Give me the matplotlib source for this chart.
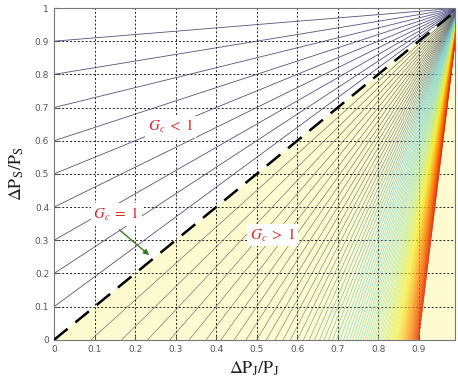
import matplotlib
matplotlib.use('Agg')
import matplotlib.pyplot as plt
from matplotlib.colors import LinearSegmentedColormap
import numpy as np

# contour levels of Gc = (1 - dPs/Ps) / (1 - dPj/Pj)
gc_upper = [0.1, 0.2, 0.3, 0.4, 0.5, 0.6, 0.7, 0.8, 0.9]   # Gc < 1
gc_lower_start, gc_lower_stop, gc_lower_step = 1.1, 10.0, 0.1  # Gc > 1
x_ticks = [0, 0.1, 0.2, 0.3, 0.4, 0.5, 0.6, 0.7, 0.8, 0.9]
x_ticklabels = ['0', '0.1', '0.2', '0.3', '0.4', '0.5', '0.6', '0.7', '0.8', '0.9']
y_ticks = [0, 0.1, 0.2, 0.3, 0.4, 0.5, 0.6, 0.7, 0.8, 0.9, 1.0]
y_ticklabels = ['0', '0.1', '0.2', '0.3', '0.4', '0.5', '0.6', '0.7', '0.8', '0.9', '1']

plt.rcParams['mathtext.fontset'] = 'stix'

fig = plt.figure(figsize=(4.58, 3.81), dpi=100)
ax = fig.add_axes([0.118, 0.108, 0.876, 0.871])

gc_lower = list(np.round(np.arange(gc_lower_start, gc_lower_stop + 1e-9, gc_lower_step), 2))

# grid for the contour
xs = np.linspace(0, 0.995, 500)
ys = np.linspace(0, 1, 500)
X, Y = np.meshgrid(xs, ys)
G = (1 - Y) / (1 - X)

# region Gc > 1 (below the diagonal)
ax.fill([0, 1, 1], [0, 1, 0], color='#fdfbcf', zorder=0, lw=0)

# upper family: dark slate lines
ax.contour(X, Y, G, levels=gc_upper, colors='#35356f', linewidths=0.6,
           alpha=0.85, zorder=1)
# lower family: grey -> cyan -> yellow -> red
lower_cmap = LinearSegmentedColormap.from_list('gc', [
    (0.0, '#505058'), (0.12, '#5c6468'), (0.27, '#6ccad4'), (0.42, '#a8e4a8'),
    (0.6, '#f4f020'), (0.78, '#ff8800'), (1.0, '#e52a08')])
ax.contour(X, Y, G, levels=gc_lower, cmap=lower_cmap, vmin=1, vmax=10,
           linewidths=0.45, alpha=0.85, zorder=1)

# Gc = 1
ax.plot([0, 1], [0, 1], color='k', lw=1.8, dashes=(7, 4), zorder=3)

ax.set_xlim(0, 0.99)
ax.set_ylim(0, 1)
ax.set_xticks(x_ticks)
ax.set_xticklabels(x_ticklabels)
ax.set_yticks(y_ticks)
ax.set_yticklabels(y_ticklabels)
ax.tick_params(direction='in', length=3, labelsize=6.5, colors='#555555')
ax.set_axisbelow(True)
ax.grid(True, linestyle=(0, (2, 2)), color='#222222', linewidth=0.7)
for s in ax.spines.values():
    s.set_color('#777777')

ax.set_xlabel(r'$\Delta\mathrm{P_J/P_J}$', fontsize=13, color='#222222', labelpad=4)
ax.set_ylabel(r'$\Delta\mathrm{P_S/P_S}$', fontsize=13, color='#222222', labelpad=6)

red = '#d42a2a'
box = dict(facecolor='white', edgecolor='none', pad=2)
ax.text(0.287, 0.642, r'$G_c\;<\;\mathit{1}$', color=red, fontsize=11,
        ha='center', va='center', bbox=box, zorder=4)
ax.text(0.153, 0.377, r'$G_c\;=\;\mathit{1}$', color=red, fontsize=11,
        ha='center', va='center', bbox=box, zorder=4)
ax.text(0.539, 0.316, r'$G_c\;>\;\mathit{1}$', color=red, fontsize=11,
        ha='center', va='center', bbox=box, zorder=4)
ax.annotate('', xy=(0.24, 0.25), xytext=(0.156, 0.337),
            arrowprops=dict(arrowstyle='-|>', color='#3e7a1e', lw=1.0,
                            mutation_scale=8), zorder=4)

fig.savefig('out.png', dpi=100)
